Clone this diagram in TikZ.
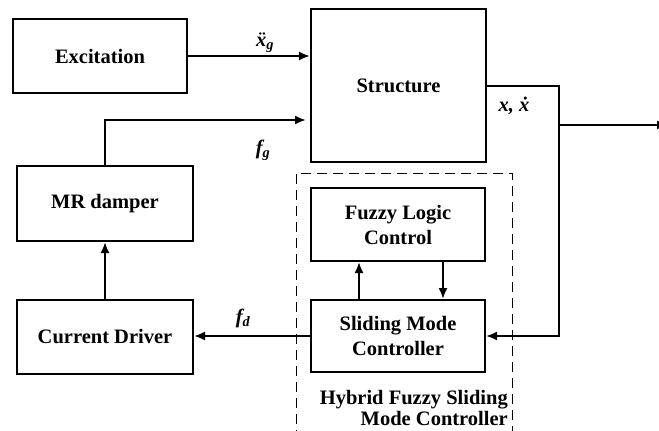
\documentclass[tikz,border=0pt]{standalone}
\usepackage{fontspec}
\setmainfont{Liberation Serif}
\usetikzlibrary{arrows.meta,calc}
\tikzset{
  blk/.style={draw, line width=2pt, minimum width=#1, inner sep=0pt, align=center,
    font=\fontsize{20.5}{25}\selectfont\bfseries},
  arr/.style={line width=2pt, -{Latex[length=11pt,width=9pt]}},
  ln/.style={line width=2pt},
  lbl/.style={font=\fontsize{20.5}{25}\selectfont\bfseries\itshape, inner sep=0pt},
  dash box/.style={draw, line width=1pt, dash pattern=on 10pt off 6pt}
}
\begin{document}
\begin{tikzpicture}[x=1pt,y=-1pt]
\useasboundingbox (0,0) rectangle (659,431);
\fill[white] (0,0) rectangle (659,431);
\clip (0,0) rectangle (659,431);
% dashed controller box
\draw[dash box] (296,440) -- (296,173) -- (512,173) -- (512,440);
% blocks
\node[blk=174pt, minimum height=74pt] (exc) at (100,56) {Excitation};
\node[blk=175pt, minimum height=153pt] (str) at (398.5,85.5) {Structure};
\node[blk=176pt, minimum height=75pt] (mr) at (105,203.5) {MR damper};
\node[blk=176pt, minimum height=74pt] (cd) at (105,337) {Current Driver};
\node[blk=174pt, minimum height=73pt] (flc) at (398,224.5) {Fuzzy Logic\\Control};
\node[blk=174pt, minimum height=72pt] (smc) at (398,336) {Sliding Mode\\Controller};
% coordinates
\coordinate (tap) at (559,125);
\coordinate (out) at (668,125);
% connectors
\draw[arr] (exc.east) -- (exc.east -| str.west);
\draw[arr, shorten >=4pt] (mr.north) |- (str.west |- 0,120);
\draw[arr] (cd.north) -- (mr.south);
\draw[ln] (str.east) -| (tap);
\draw[arr] (tap) |- (smc.east);
\draw[arr] (tap) -- (out);
\draw[arr] (smc.west) -- (smc.west -| cd.east);
\draw[arr] ([xshift=-39pt]smc.north) -- ([xshift=-39pt]flc.south);
\draw[arr] ([xshift=45pt]flc.south) -- ([xshift=45pt]smc.north);
% labels
\node[lbl] (lx) at (265,43) {\"x\textsubscript{g}};
\node[lbl] (lfg) at (263,150) {f\textsubscript{g}};
\node[lbl] (lfd) at (243,318) {f\textsubscript{d}};
\node[lbl] (lxo) at (514,106) {x, \.x};
\node[font=\fontsize{20.5}{21}\selectfont\bfseries, align=right, anchor=east, inner sep=0pt] (hyb) at (508,407.5) {Hybrid Fuzzy Sliding\\Mode Controller};
\end{tikzpicture}
\end{document}
